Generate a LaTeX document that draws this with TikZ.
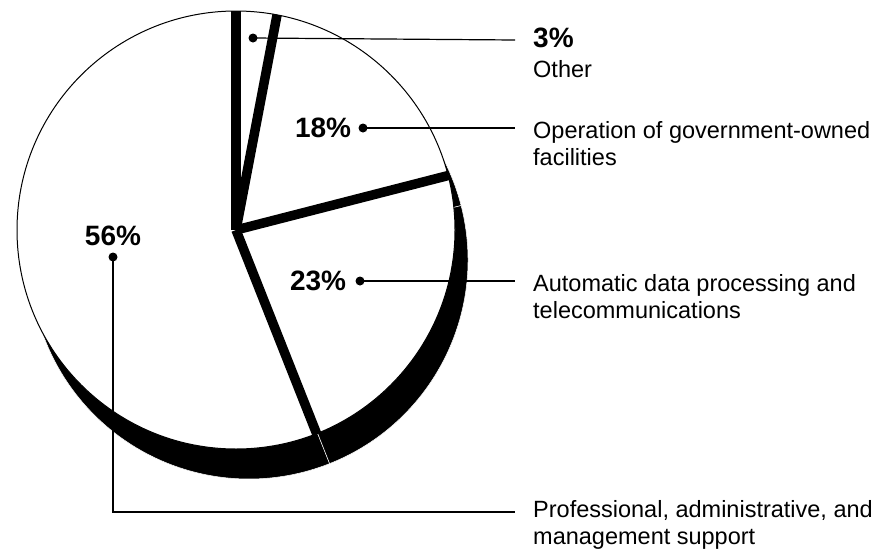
\documentclass[tikz,border=0pt]{standalone}
\usepackage{fontspec}
\setmainfont{Liberation Sans}
\usetikzlibrary{positioning}
\tikzset{pct/.style={font=\fontsize{28}{30}\selectfont\bfseries, inner sep=0pt}}
\tikzset{lbl/.style={font=\fontsize{23.5}{26.5}\selectfont, inner sep=0pt, anchor=base west, align=left}}
\tikzset{dot/.style={circle, fill, inner sep=0pt, minimum size=9pt}}
\tikzset{lead/.style={line width=1.2pt}}
\tikzset{sepline/.style={line width=9.5pt}}

\begin{document}
\begin{tikzpicture}[x=1pt,y=1pt]
  \useasboundingbox (0,0) rectangle (891,-552);
  \pgfmathsetmacro{\R}{219}

  % shadow
  \begin{scope}[shift={(249,-260)}]
    \foreach \a/\b in {90/291.6, 79.2/90, 14.4/79.2, -68.4/14.4}
      \filldraw[fill=black, draw=white, line width=0.5pt] (0,0) -- (\a:\R) arc[start angle=\a, end angle=\b, radius=\R] -- cycle;
  \end{scope}

  % slices
  \begin{scope}[shift={(236,-230)}]
    \foreach \a/\b in {90/291.6, 79.2/90, 14.4/79.2, -68.4/14.4}
      \fill[white] (0,0) -- (\a:\R) arc[start angle=\a, end angle=\b, radius=\R] -- cycle;
    \draw[line width=1pt] (0,0) circle[radius=\R];
    \foreach \a in {90, 79.2, 14.4, -68.4}
      \draw[sepline] (0,0) -- (\a:\R);
  \end{scope}

  \node[dot] (d3) at (253,-38) {};
  \node[dot] (d18) at (363,-128) {};
  \node[dot] (d23) at (360,-281) {};
  \node[dot] (d56) at (113,-257) {};
  \node[pct, left=7pt of d18] (p18) {18\%};
  \node[pct, left=9pt of d23] (p23) {23\%};
  \node[pct, above=6pt of d56] (p56) {56\%};

  \coordinate (e3) at (515,-40);
  \coordinate (e18) at (515,-128);
  \coordinate (e23) at (515,-281);
  \coordinate (e56) at (515,-512);
  \draw[lead] (d3.center) -- (e3);
  \draw[lead] (d18.center) -- (e18);
  \draw[lead] (d23.center) -- (e23);
  \draw[lead] (d56.center) |- (e56);

  \node[pct, anchor=base west] (p3) at (533,-47) {3\%};
  \node[lbl] (t3) at (533,-77) {Other};
  \node[lbl] (t18) at (533,-165) {Operation of government-owned\\facilities};
  \node[lbl] (t23) at (533,-318) {Automatic data processing and\\telecommunications};
  \node[lbl] (t56) at (533,-544) {Professional, administrative, and\\management support};
\end{tikzpicture}
\end{document}
